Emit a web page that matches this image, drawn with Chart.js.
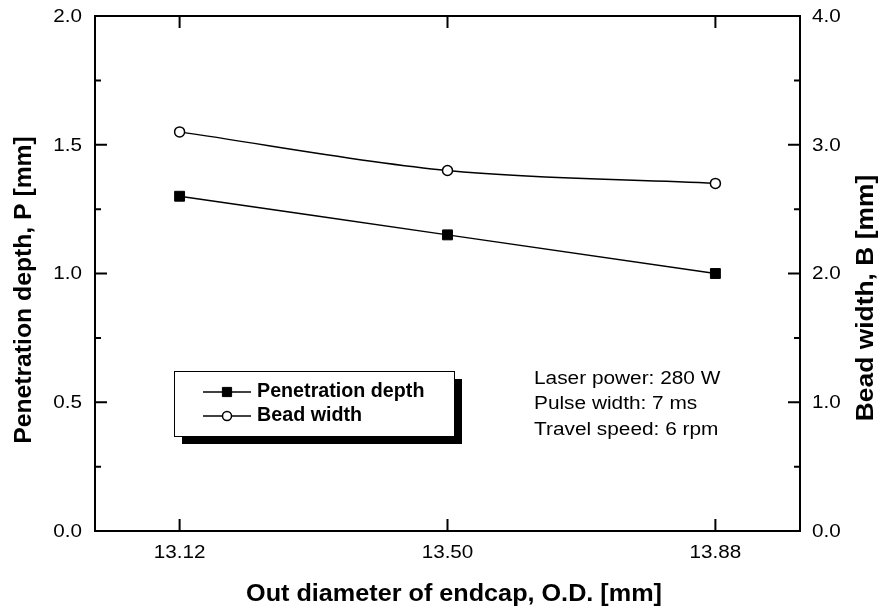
<!DOCTYPE html>
<html>
<head>
  <title>Penetration depth and bead width vs O.D.</title>
  <script src="https://cdn.jsdelivr.net/npm/chart.js"></script>
  <style>
    body { margin: 0; background: #fff; }
    canvas { display: block; }
  </style>
</head>
<body>
  <canvas id="chart" width="884" height="610"></canvas>
  <script>
    // data
    const odValues = [13.12, 13.50, 13.88];
    const penetrationDepth = [1.30, 1.15, 1.00];
    const beadWidth = [3.10, 2.80, 2.70];
    const xTickValues = [13.12, 13.50, 13.88];
    const conditions = ['Laser power: 280 W', 'Pulse width: 7 ms', 'Travel speed: 6 rpm'];

    const FONT = '"Liberation Sans", Arial, sans-serif';
    const TICK_FONT = '17.5px ' + FONT;
    const TITLE_FONT = 'bold 24px ' + FONT;
    const STRETCH = 1.18; // the original's regular text is wider than Arial

    // draws text stretched horizontally, optionally rotated
    function drawText(ctx, text, x, y, align, font, sx, rot) {
      ctx.save();
      ctx.font = font;
      ctx.textBaseline = 'middle';
      ctx.textAlign = 'left';
      const w = ctx.measureText(text).width * sx;
      ctx.translate(x, y);
      if (rot) ctx.rotate(rot);
      const x0 = align === 'right' ? -w : align === 'center' ? -w / 2 : 0;
      ctx.translate(x0, 0);
      ctx.scale(sx, 1);
      ctx.fillText(text, 0, 0);
      ctx.restore();
    }

    const framePlugin = {
      id: 'frame',
      afterDraw(chart) {
        const { ctx, chartArea: a, scales } = chart;
        ctx.save();
        ctx.strokeStyle = '#000';
        ctx.fillStyle = '#000';
        ctx.lineWidth = 2;
        ctx.strokeRect(a.left, a.top, a.right - a.left, a.bottom - a.top);

        // inward ticks, major and minor
        ctx.beginPath();
        xTickValues.forEach(v => {
          const px = scales.x.getPixelForValue(v);
          ctx.moveTo(px, a.bottom); ctx.lineTo(px, a.bottom - 12);
          ctx.moveTo(px, a.top); ctx.lineTo(px, a.top + 12);
        });
        for (let v = 0; v <= 2.0001; v += 0.25) {
          const py = scales.y.getPixelForValue(v);
          const len = Math.abs(v / 0.5 - Math.round(v / 0.5)) < 1e-6 ? 12 : 6;
          ctx.moveTo(a.left, py); ctx.lineTo(a.left + len, py);
        }
        for (let v = 0; v <= 4.0001; v += 0.5) {
          const py = scales.y2.getPixelForValue(v);
          const len = Math.abs(v - Math.round(v)) < 1e-6 ? 12 : 6;
          ctx.moveTo(a.right, py); ctx.lineTo(a.right - len, py);
        }
        ctx.stroke();

        // tick labels
        scales.x.ticks.forEach(t => {
          drawText(ctx, t.value.toFixed(2), scales.x.getPixelForValue(t.value), a.bottom + 22, 'center', TICK_FONT, STRETCH);
        });
        scales.y.ticks.forEach(t => {
          drawText(ctx, t.value.toFixed(1), a.left - 13, scales.y.getPixelForValue(t.value) + 1, 'right', TICK_FONT, STRETCH);
        });
        scales.y2.ticks.forEach(t => {
          drawText(ctx, t.value.toFixed(1), a.right + 12, scales.y2.getPixelForValue(t.value) + 1, 'left', TICK_FONT, STRETCH);
        });

        // axis titles
        drawText(ctx, 'Out diameter of endcap, O.D. [mm]', 454, 594, 'center', TITLE_FONT, 1.05);
        drawText(ctx, 'Penetration depth, P [mm]', 24, 290, 'center', TITLE_FONT, 1.03, -Math.PI / 2);
        drawText(ctx, 'Bead width, B [mm]', 866, 298, 'center', TITLE_FONT, 1.1, -Math.PI / 2);

        // legend box with shadow
        const lx = 174, ly = 371, lw = 280, lh = 65;
        ctx.fillRect(lx + 8, ly + 8, lw, lh);
        ctx.fillStyle = '#fff';
        ctx.fillRect(lx, ly, lw, lh);
        ctx.lineWidth = 1;
        ctx.strokeRect(lx + 0.5, ly + 0.5, lw, lh);

        chart.data.datasets.forEach((ds, i) => {
          const ry = 392 + i * 24;
          ctx.lineWidth = 1.5;
          ctx.strokeStyle = '#000';
          ctx.beginPath();
          ctx.moveTo(203, ry); ctx.lineTo(251, ry);
          ctx.stroke();
          ctx.fillStyle = ds.pointBackgroundColor;
          ctx.lineWidth = ds.pointBorderWidth;
          Chart.helpers.drawPoint(ctx, {
            pointStyle: ds.pointStyle,
            radius: ds.pointStyle === 'rect' ? 6.5 : 4.5,
            borderWidth: ds.pointBorderWidth
          }, 227, ry);
          ctx.fillStyle = '#000';
          drawText(ctx, ds.label, 257, ry, 'left', 'bold 19.5px ' + FONT, 1.01);
        });

        // process conditions
        conditions.forEach((t, i) => drawText(ctx, t, 534, 379 + i * 25.5, 'left', TICK_FONT, STRETCH + 0.01));
        ctx.restore();
      }
    };

    new Chart(document.getElementById('chart'), {
      type: 'line',
      data: {
        datasets: [{
          label: 'Penetration depth',
          data: odValues.map((x, i) => ({ x, y: penetrationDepth[i] })),
          yAxisID: 'y',
          borderColor: '#000',
          borderWidth: 1.5,
          pointStyle: 'rect',
          pointRadius: 7,
          pointBackgroundColor: '#000',
          pointBorderColor: '#000',
          pointBorderWidth: 1,
          cubicInterpolationMode: 'monotone'
        }, {
          label: 'Bead width',
          data: odValues.map((x, i) => ({ x, y: beadWidth[i] })),
          yAxisID: 'y2',
          borderColor: '#000',
          borderWidth: 1.5,
          pointStyle: 'circle',
          pointRadius: 5,
          pointBackgroundColor: '#fff',
          pointBorderColor: '#000',
          pointBorderWidth: 1.5,
          cubicInterpolationMode: 'monotone'
        }]
      },
      options: {
        responsive: false,
        animation: false,
        layout: { padding: { top: 16, left: 0, right: 0, bottom: 0 } },
        plugins: {
          legend: { display: false },
          tooltip: { enabled: false }
        },
        scales: {
          x: {
            type: 'linear',
            min: 13.0,
            max: 14.0,
            afterBuildTicks: s => { s.ticks = xTickValues.map(v => ({ value: v })); },
            afterFit: s => { s.height = 79; },
            grid: { display: false, drawTicks: false },
            border: { display: false },
            ticks: { display: false }
          },
          y: {
            position: 'left',
            min: 0,
            max: 2,
            afterFit: s => { s.width = 95; },
            grid: { display: false, drawTicks: false },
            border: { display: false },
            ticks: { display: false, stepSize: 0.5 }
          },
          y2: {
            position: 'right',
            min: 0,
            max: 4,
            afterFit: s => { s.width = 84; },
            grid: { display: false, drawTicks: false },
            border: { display: false },
            ticks: { display: false, stepSize: 1 }
          }
        }
      },
      plugins: [framePlugin]
    });
  </script>
</body>
</html>
